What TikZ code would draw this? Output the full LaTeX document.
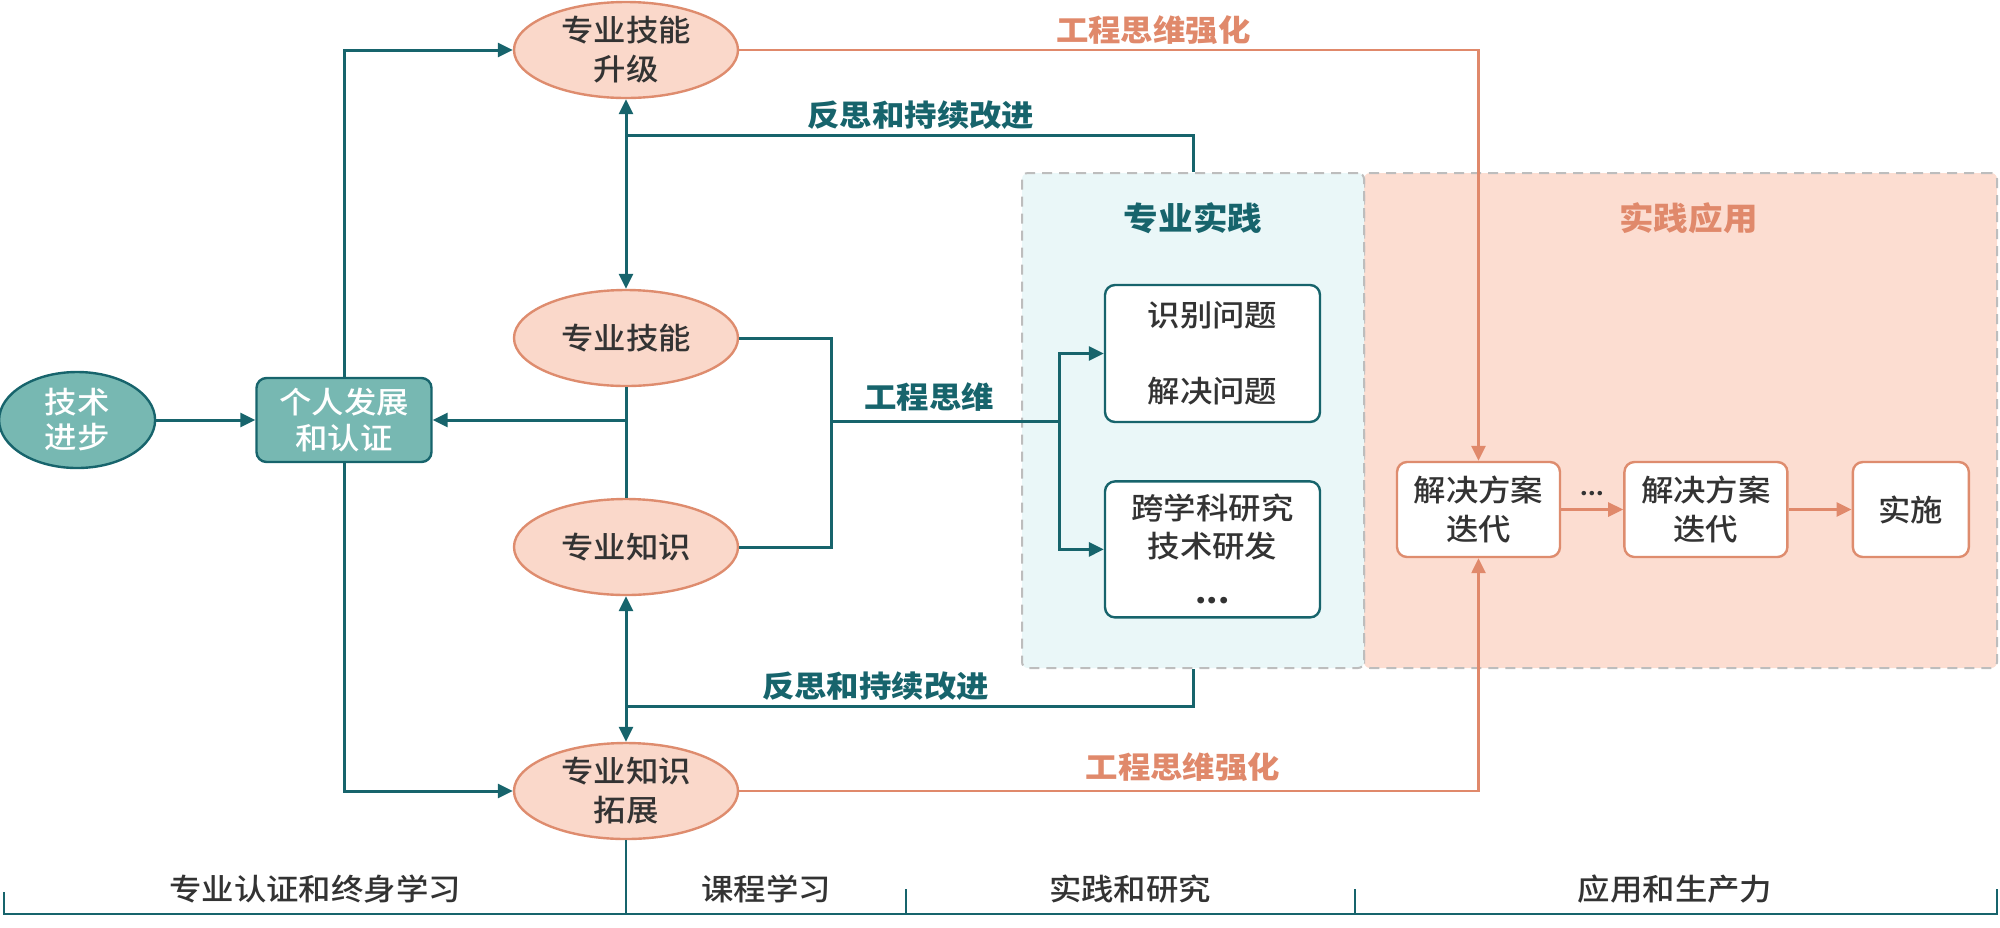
\documentclass[tikz,border=0pt]{standalone}
\usepackage{fontspec}
\setmainfont{Noto Sans CJK SC}[FakeStretch=1.08]
\newfontfamily\medfont{Noto Sans CJK SC Medium}[FakeStretch=1.08]
\usepackage{xcolor}
\usetikzlibrary{arrows.meta, positioning, shapes.geometric, calc}

\definecolor{tealdark}{HTML}{17646C}
\definecolor{tealfill}{HTML}{77B8B2}
\definecolor{peachfill}{HTML}{FAD8CA}
\definecolor{peachline}{HTML}{DE8C6E}
\definecolor{warmline}{HTML}{E0896B}
\definecolor{pracfill}{HTML}{EAF7F8}
\definecolor{applfill}{HTML}{FCDDD1}
\definecolor{arealine}{HTML}{BDBDBD}
\definecolor{txt}{HTML}{333333}

\begin{document}
\begin{tikzpicture}[x=0.5pt, y=-0.5pt,
    >={Triangle[length=7.5pt, width=7pt]},
    area/.style={
      rectangle, draw=arealine, line width=1pt,
      dash pattern=on 5pt off 3.5pt, rounded corners=3pt
    },
    start/.style={
      ellipse, draw=tealdark, fill=tealfill, line width=1.2pt,
      text=white, align=center, inner sep=0pt,
      font=\fontsize{15}{17.5}\selectfont\medfont
    },
    skill/.style={
      ellipse, draw=peachline, fill=peachfill, line width=1.2pt,
      minimum width=112pt, minimum height=48pt, inner sep=0pt,
      text=txt, align=center, font=\fontsize{15}{19.5}\selectfont\medfont
    },
    item/.style={
      rectangle, draw=tealdark, fill=white, rounded corners=5pt,
      line width=1.2pt, text=txt, align=center,
      font=\fontsize{15}{19}\selectfont\medfont
    },
    iterbox/.style={
      rectangle, draw=peachline, fill=white, rounded corners=5pt,
      line width=1.2pt, text=txt, align=center,
      font=\fontsize{15}{19.5}\selectfont\medfont
    },
    rel/.style={->, draw=tealdark, line width=1.5pt},
    link/.style={draw=tealdark, line width=1.5pt},
    warm/.style={->, draw=warmline, line width=1.3pt},
    lbl/.style={font=\fontsize{15}{18}\selectfont\bfseries, text=tealdark, inner sep=2pt},
    wlbl/.style={font=\fontsize{15}{18}\selectfont\bfseries, text=warmline, inner sep=2pt},
    stage/.style={font=\fontsize{15}{18}\selectfont\medfont, text=txt},
  ]
  \useasboundingbox (0,0) rectangle (2000,927);

  % regions
  \node[area, fill=applfill, minimum width=316.5pt, minimum height=247.5pt] (appl) at (1680.5,420.5) {};
  \node[area, fill=pracfill, minimum width=171pt, minimum height=247.5pt] (prac) at (1193,420.5) {};
  \node[lbl, font=\fontsize{16}{18}\selectfont\bfseries] (pracname) at ([yshift=-23pt] prac.north) {专业实践};
  \node[wlbl, font=\fontsize{16}{18}\selectfont\bfseries] (applname) at ([xshift=4pt, yshift=-23pt] appl.north) {实践应用};

  % left column
  \node[item, fill=tealfill, text=white, minimum width=87.5pt, minimum height=42pt,
        font=\fontsize{15}{18}\selectfont\medfont] (dev) at (344,420) {个人发展\\和认证};
  \node[start, minimum width=78pt, minimum height=48pt, left=49.5pt of dev] (tech) {技术\\进步};

  \node[skill] (upgrade) at (626,50) {专业技能\\升级};
  \node[skill] (basic) at (626,338) {专业技能};
  \node[skill] (know) at (626,547) {专业知识};
  \node[skill] (expand) at (626,791) {专业知识\\拓展};

  % practice boxes
  \node[item, minimum width=107.5pt, minimum height=68.5pt] (ident) at (1212.5,353.5) {识别问题\\[19pt]解决问题};
  \node[item, minimum width=107.5pt, minimum height=68pt, below=28.5pt of ident] (cross) {跨学科研究\\技术研发\\[4pt]\textbf{...}};

  % application boxes
  \node[iterbox, minimum width=81.5pt, minimum height=47.5pt] (iter1) at (1478.5,509.5) {解决方案\\迭代};
  \node[iterbox, minimum width=81.5pt, minimum height=47.5pt, right=31pt of iter1] (iter2) {解决方案\\迭代};
  \node[iterbox, minimum width=58pt, minimum height=47.5pt, right=31.5pt of iter2] (impl) {实施};

  % connectors
  \draw[rel] (tech) -- (dev);
  \draw[rel] (dev.north) |- (upgrade.west);
  \draw[rel] (dev.south) |- (expand.west);
  \draw[rel, <->] (upgrade.south) -- (basic.north);
  \draw[rel, <->] (expand.north) -- (know.south);
  \draw[link] (basic.south) -- (know.north);
  \draw[rel] (basic.south |- dev.east) -- (dev.east);

  \coordinate (tw) at (831,421);
  \coordinate (fork) at (1059,421);
  \draw[link] (basic.east) -| (tw) |- (know.east);
  \draw[link] (tw) -- node[lbl, above, pos=0.43, yshift=2pt] {工程思维} (fork);
  \draw[rel] (fork) |- (ident.west);
  \draw[rel] (fork) |- (cross.west);

  \coordinate (fbtop) at (626,135);
  \coordinate (fbbot) at (626,706);
  \draw[link] (prac.north) |- node[lbl, above, pos=0.74] {反思和持续改进} (fbtop);
  \draw[link] (prac.south) |- node[lbl, above, pos=0.78] {反思和持续改进} (fbbot);

  \draw[warm] (upgrade.east) -| node[wlbl, above, pos=0.28] {工程思维强化} (iter1.north);
  \draw[warm] (expand.east) -| node[wlbl, above, pos=0.3, yshift=2pt] {工程思维强化} (iter1.south);
  \draw[warm] (iter1) -- node[above, text=txt, font=\bfseries, yshift=3pt] {...} (iter2);
  \draw[warm] (iter2) -- (impl);

  % stages axis
  \coordinate (axl) at (4,914);
  \coordinate (axr) at (1997,914);
  \draw[link, line width=1.3pt] ([yshift=11pt] axl) -- (axl) -- (axr) -- ([yshift=12.5pt] axr);
  \draw[link, line width=1.3pt] (expand.south) -- (expand.south |- axl);
  \draw[link, line width=1.3pt] (906,889) -- (906,914);
  \draw[link, line width=1.3pt] (1355,889) -- (1355,914);
  \node[stage] (s1) at (315,889) {专业认证和终身学习};
  \node[stage] (s2) at (766,889) {课程学习};
  \node[stage] (s3) at (1130,889) {实践和研究};
  \node[stage] (s4) at (1675,889) {应用和生产力};
\end{tikzpicture}
\end{document}
